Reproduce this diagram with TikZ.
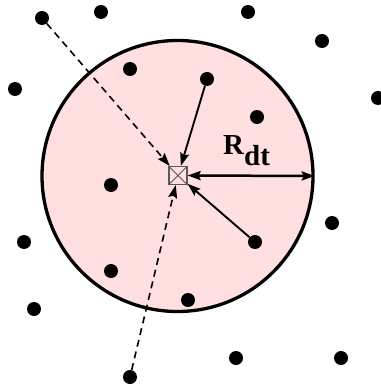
\documentclass[tikz,border=0pt]{standalone}
\usepackage{fontspec}
\setmainfont{Liberation Serif}
\usetikzlibrary{arrows.meta}
\definecolor{disk}{RGB}{255,223,223}
\begin{document}
\begin{tikzpicture}[x=1pt,y=-1pt,
  dot/.style={circle,fill=black,inner sep=0pt,minimum size=14pt},
  tip/.style={-{Stealth[length=13pt,width=9pt,inset=2pt]}},
  conn/.style={tip,line width=1.9pt},
  dconn/.style={tip,line width=1.6pt,dash pattern=on 7pt off 5pt}]
\useasboundingbox (0,0) rectangle (380,387);
\node[circle,draw,line width=3.3pt,fill=disk,minimum size=271pt,inner sep=0pt] (C) at (177.5,176) {};
\node[draw=black!65,line width=1.2pt,fill=disk,minimum size=18pt,inner sep=0pt] (sq) at (178,175.5) {};
\draw[black!65,line width=0.9pt] (sq.north west) -- (sq.south east) (sq.north east) -- (sq.south west);
\foreach \n/\x/\y in {d1/42/18,d2/101/12,d3/248/12,d4/322/41,d5/15/89,d6/130/69,d7/207/79,d8/378/98,d9/257/117,
  d10/111/185,d11/24/242,d12/255/242,d13/332/223,d14/111/271,d15/188/300,d16/34/309,d17/236/358,d18/341/358,d19/130/377}
  \node[dot] (\n) at (\x,\y) {};
\draw[conn] (d7) -- (sq);
\draw[conn] (d12) -- (sq);
\draw[dconn] (d1) -- (sq);
\draw[dconn] (d19) -- (sq);
\draw[{Stealth[length=13pt,width=9pt,inset=2pt]}-{Stealth[length=13pt,width=9pt,inset=2pt]},line width=2.5pt] (sq.east) -- (C.east);
\node[font=\fontsize{29}{29}\selectfont\bfseries,inner sep=0pt,anchor=base west] (lab) at (223,155) {R\raisebox{-11pt}{dt}};
\end{tikzpicture}
\end{document}
